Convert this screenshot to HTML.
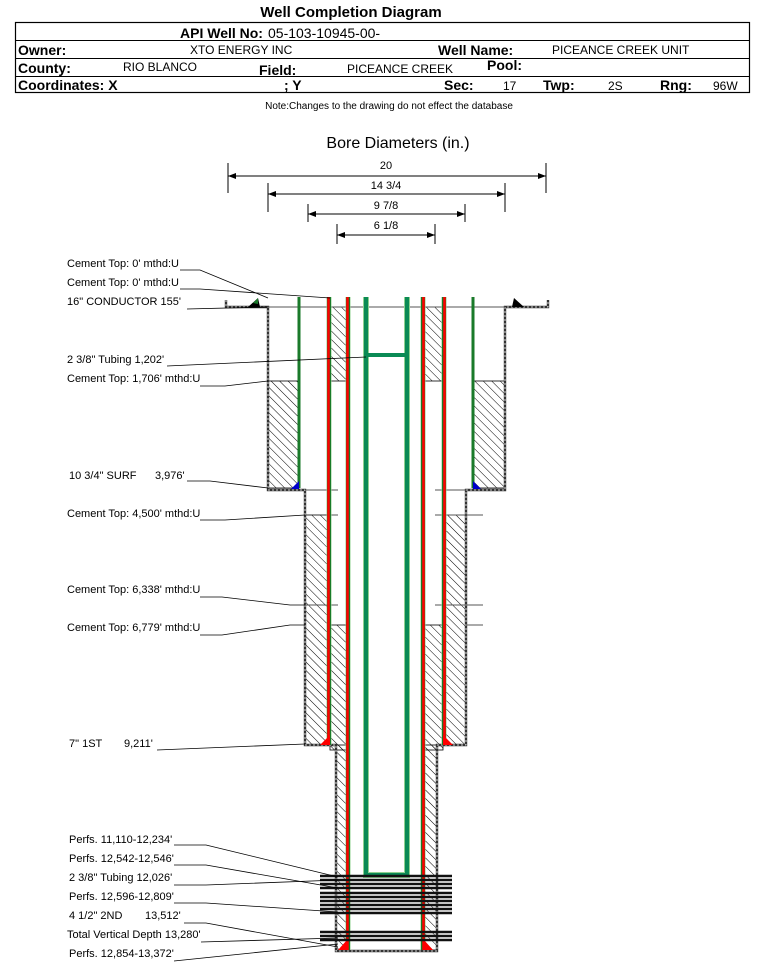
<!DOCTYPE html>
<html><head><meta charset="utf-8"><style>
html,body{margin:0;padding:0;background:#fff;}
svg{display:block;font-family:"Liberation Sans",Arial,sans-serif;}
</style></head><body>
<svg width="766" height="962" viewBox="0 0 766 962" xmlns="http://www.w3.org/2000/svg">
<defs>
<pattern id="h" patternUnits="userSpaceOnUse" width="6" height="6" patternTransform="rotate(-45)">
<line x1="0" y1="0" x2="0" y2="6" stroke="#000" stroke-width="1"/>
</pattern>
</defs>
<!-- header -->
<text x="351" y="17" font-size="15" font-weight="bold" text-anchor="middle">Well Completion Diagram</text>
<rect x="15.5" y="22.5" width="734" height="70" fill="none" stroke="#000" stroke-width="1.2"/>
<line x1="15" y1="40.5" x2="750" y2="40.5" stroke="#000"/>
<line x1="15" y1="58.5" x2="750" y2="58.5" stroke="#000"/>
<line x1="15" y1="76.5" x2="750" y2="76.5" stroke="#000"/>
<text x="180" y="38" font-size="14" font-weight="bold">API Well No:</text>
<text x="268" y="38" font-size="14">05-103-10945-00-</text>
<text x="18" y="55" font-size="14" font-weight="bold">Owner:</text>
<text x="190" y="54" font-size="12">XTO ENERGY INC</text>
<text x="438" y="55" font-size="14" font-weight="bold">Well Name:</text>
<text x="552" y="54" font-size="12">PICEANCE CREEK UNIT</text>
<text x="18" y="73" font-size="14" font-weight="bold">County:</text>
<text x="123" y="71" font-size="12">RIO BLANCO</text>
<text x="259" y="75" font-size="14" font-weight="bold">Field:</text>
<text x="347" y="73" font-size="12">PICEANCE CREEK</text>
<text x="487" y="70" font-size="14" font-weight="bold">Pool:</text>
<text x="18" y="90" font-size="14" font-weight="bold">Coordinates: X</text>
<text x="284" y="90" font-size="14" font-weight="bold">; Y</text>
<text x="444" y="90" font-size="14" font-weight="bold">Sec:</text>
<text x="503" y="90" font-size="12">17</text>
<text x="543" y="90" font-size="14" font-weight="bold">Twp:</text>
<text x="608" y="90" font-size="12">2S</text>
<text x="660" y="90" font-size="14" font-weight="bold">Rng:</text>
<text x="713" y="90" font-size="12">96W</text>
<text x="389" y="109" font-size="10" text-anchor="middle">Note:Changes to the drawing do not effect the database</text>

<!-- bore diameters -->
<text x="398" y="148" font-size="16" text-anchor="middle">Bore Diameters (in.)</text>
<g stroke="#000" stroke-width="1" fill="none">
<line x1="228" y1="176" x2="546" y2="176"/><line x1="228" y1="163" x2="228" y2="193"/><line x1="546" y1="163" x2="546" y2="193"/>
<line x1="268" y1="194" x2="505" y2="194"/><line x1="268" y1="183" x2="268" y2="212"/><line x1="505" y1="183" x2="505" y2="212"/>
<line x1="308" y1="214" x2="465" y2="214"/><line x1="308" y1="204" x2="308" y2="222"/><line x1="465" y1="204" x2="465" y2="222"/>
<line x1="337" y1="235" x2="435" y2="235"/><line x1="337" y1="224" x2="337" y2="244"/><line x1="435" y1="224" x2="435" y2="244"/>
</g>
<g fill="#000">
<polygon points="228,176 236,173 236,179"/><polygon points="546,176 538,173 538,179"/>
<polygon points="268,194 276,191 276,197"/><polygon points="505,194 497,191 497,197"/>
<polygon points="308,214 316,211 316,217"/><polygon points="465,214 457,211 457,217"/>
<polygon points="337,235 345,232 345,238"/><polygon points="435,235 427,232 427,238"/>
</g>
<g font-size="11" text-anchor="middle">
<text x="386" y="169">20</text><text x="386" y="189">14 3/4</text><text x="386" y="209">9 7/8</text><text x="386" y="229">6 1/8</text>
</g>

<!-- cement hatch -->
<g fill="url(#h)" stroke="#000" stroke-width="0.8">
<rect x="268" y="381" width="31" height="107"/>
<rect x="473" y="381" width="32" height="107"/>
<rect x="330" y="307" width="18" height="74"/>
<rect x="425" y="307" width="18" height="74"/>
<rect x="305" y="515" width="23" height="230"/>
<rect x="445" y="515" width="21" height="230"/>
<rect x="330" y="625" width="18" height="125"/>
<rect x="425" y="625" width="18" height="125"/>
<rect x="336" y="745" width="12" height="205"/>
<rect x="425" y="745" width="12" height="205"/>
</g>

<!-- hole outline -->
<g fill="none" stroke="#333" stroke-width="2.4">
<path d="M226,300 L226,307 L268,307 L268,490 L305,490 L305,745 L336,745 L336,951 L437,951 L437,745 L466,745 L466,490 L505,490 L505,307 L548,307 L548,300"/>
</g>
<g fill="none" stroke="#fff" stroke-width="0.8" stroke-dasharray="2,2">
<path d="M226,300 L226,307 L268,307 L268,490 L305,490 L305,745 L336,745 L336,951 L437,951 L437,745 L466,745 L466,490 L505,490 L505,307 L548,307 L548,300"/>
</g>
<line x1="268" y1="307" x2="505" y2="307" stroke="#555" stroke-width="1"/>
<g stroke="#555" stroke-width="1">
<line x1="305" y1="490" x2="338" y2="490"/><line x1="435" y1="490" x2="466" y2="490"/>
<line x1="328" y1="515" x2="338" y2="515"/><line x1="435" y1="515" x2="483" y2="515"/>
<line x1="305" y1="605" x2="338" y2="605"/><line x1="435" y1="605" x2="483" y2="605"/>
<line x1="466" y1="625" x2="483" y2="625"/>
</g>
<polygon points="248,307 258,298 260,307" fill="#000"/><polygon points="514,298 524,307 512,307" fill="#000"/>
<polygon points="253,303 258,298 258,304" fill="#1a7a2a"/>

<!-- surface casing -->
<g stroke="#1a7a2a" stroke-width="3"><line x1="299" y1="297" x2="299" y2="488"/><line x1="473" y1="297" x2="473" y2="488"/></g>
<polygon points="299,481 299,489 291,489" fill="#00c"/><polygon points="473,481 473,489 481,489" fill="#00c"/>

<!-- casings -->
<g stroke="#8fd08f" stroke-width="5"><line x1="329" y1="297" x2="329" y2="745"/><line x1="444" y1="297" x2="444" y2="745"/><line x1="348" y1="297" x2="348" y2="950"/><line x1="423" y1="297" x2="423" y2="950"/></g>
<g stroke="#1a7a2a" stroke-width="4"><line x1="329" y1="297" x2="329" y2="745"/><line x1="444" y1="297" x2="444" y2="745"/><line x1="348" y1="297" x2="348" y2="950"/><line x1="423" y1="297" x2="423" y2="950"/></g>
<g stroke="#f00" stroke-width="2.5"><line x1="328.5" y1="297" x2="328.5" y2="745"/><line x1="444.5" y1="297" x2="444.5" y2="745"/><line x1="347.5" y1="297" x2="347.5" y2="950"/><line x1="423.5" y1="297" x2="423.5" y2="950"/></g>
<polygon points="330,735 330,745 320,745" fill="#f00"/><polygon points="443,735 443,745 453,745" fill="#f00"/>
<polygon points="347,940 347,950 338,950" fill="#f00"/><polygon points="424,940 424,950 433,950" fill="#f00"/>

<!-- tubing -->
<g stroke="#8fd08f" stroke-width="6" fill="none"><path d="M366,297 L366,875 L407,875 L407,297"/></g>
<g stroke="#0a8a55" stroke-width="4" fill="none"><path d="M366,297 L366,875 L407,875 L407,297"/><line x1="366" y1="355" x2="407" y2="355"/></g>

<!-- perfs -->
<g stroke="#111" stroke-width="2.4">
<line x1="320" y1="876" x2="452" y2="876"/><line x1="320" y1="880" x2="452" y2="880"/><line x1="320" y1="884" x2="452" y2="884"/><line x1="320" y1="888" x2="452" y2="888"/><line x1="320" y1="893" x2="452" y2="893"/><line x1="320" y1="897" x2="452" y2="897"/><line x1="320" y1="901" x2="452" y2="901"/><line x1="320" y1="905" x2="452" y2="905"/><line x1="320" y1="909" x2="452" y2="909"/><line x1="320" y1="913" x2="452" y2="913"/>
<line x1="320" y1="932" x2="452" y2="932"/><line x1="320" y1="936" x2="452" y2="936"/><line x1="320" y1="940" x2="452" y2="940"/>
</g>

<!-- labels -->
<g font-size="11" fill="#000">
<text x="67" y="267">Cement Top: 0' mthd:U</text>
<text x="67" y="286">Cement Top: 0' mthd:U</text>
<text x="67" y="305">16" CONDUCTOR  155'</text>
<text x="67" y="363">2 3/8" Tubing 1,202'</text>
<text x="67" y="382">Cement Top: 1,706' mthd:U</text>
<text x="69" y="479">10 3/4" SURF</text><text x="155" y="479">3,976'</text>
<text x="67" y="517">Cement Top: 4,500' mthd:U</text>
<text x="67" y="593">Cement Top: 6,338' mthd:U</text>
<text x="67" y="631">Cement Top: 6,779' mthd:U</text>
<text x="69" y="747">7" 1ST</text><text x="124" y="747">9,211'</text>
<text x="69" y="843">Perfs. 11,110-12,234'</text>
<text x="69" y="862">Perfs. 12,542-12,546'</text>
<text x="69" y="881">2 3/8" Tubing 12,026'</text>
<text x="69" y="900">Perfs. 12,596-12,809'</text>
<text x="69" y="919">4 1/2" 2ND</text><text x="145" y="919">13,512'</text>
<text x="67" y="938">Total Vertical Depth 13,280'</text>
<text x="69" y="957">Perfs. 12,854-13,372'</text>
</g>
<g stroke="#000" stroke-width="0.8" fill="none">
<polyline points="180,270 200,270 268,298"/>
<polyline points="180,289 200,289 330,298"/>
<polyline points="187,309 268,307"/>
<polyline points="167,366 366,357"/>
<polyline points="200,386 225,386 268,381"/>
<polyline points="187,481 210,481 268,488"/>
<polyline points="200,520 225,520 305,515"/>
<polyline points="200,597 222,597 290,605 305,605"/>
<polyline points="200,635 222,635 290,625 305,625"/>
<polyline points="157,750 305,744"/>
<polyline points="174,845 206,845 338,877"/>
<polyline points="174,865 206,865 338,888"/>
<polyline points="174,885 206,885 338,880"/>
<polyline points="174,903 206,903 338,912"/>
<polyline points="184,923 206,923 338,947"/>
<polyline points="201,942 338,938"/>
<polyline points="174,961 338,944"/>
</g>
</svg>
</body></html>
